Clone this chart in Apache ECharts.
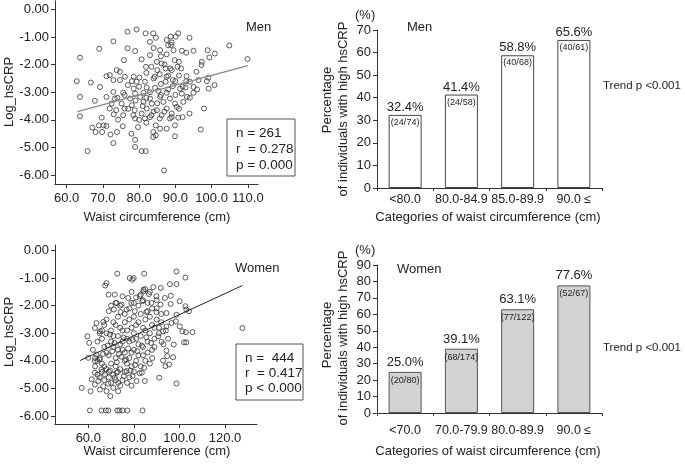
<!DOCTYPE html>
<html><head><meta charset="utf-8">
<script src="https://cdn.jsdelivr.net/npm/echarts@6/dist/echarts.min.js"></script>
<style>html,body{margin:0;padding:0;background:#fff}#c{width:685px;height:467px}</style>
</head><body><div id="c"></div>
<script>
// ---- Data ----
const menPoints = [
[79.3,-0.73],[76.8,-0.81],[81.8,-0.87],[83.9,-0.87],[84.6,-1.03],[90.8,-0.87],[93.9,-1.03],[72.9,-1.16],[83.0,-1.18],[87.6,-1.11],[88.7,-0.99],[90.1,-0.99],[104.9,-1.31],[69.0,-1.43],[76.8,-1.41],[78.9,-1.51],[85.8,-1.48],[88.8,-1.29],[89.5,-1.48],[91.8,-1.50],[93.0,-1.57],[95.0,-1.50],[98.9,-1.48],[100.9,-1.60],[109.9,-1.80],[63.7,-1.75],[83.0,-1.66],[75.8,-1.84],[87.6,-1.63],[80.7,-1.81],[84.9,-1.90],[86.2,-1.96],[97.3,-1.90],[99.4,-1.74],[89.8,-1.84],[97.2,-2.02],[81.9,-2.08],[83.4,-2.08],[87.3,-2.14],[88.6,-2.14],[90.6,-2.08],[91.6,-2.14],[95.8,-2.26],[73.8,-2.20],[74.7,-2.26],[71.0,-2.42],[71.9,-2.38],[76.1,-2.44],[78.5,-2.44],[80.1,-2.47],[84.3,-2.44],[85.7,-2.35],[87.6,-2.44],[93.1,-2.42],[99.1,-2.47],[98.7,-2.60],[100.8,-2.74],[62.8,-2.60],[66.7,-2.65],[72.9,-2.56],[74.7,-2.56],[79.3,-2.62],[81.6,-2.62],[87.3,-2.62],[89.3,-2.56],[94.0,-2.62],[96.4,-2.56],[69.2,-2.81],[76.9,-2.74],[78.5,-2.87],[82.1,-2.83],[84.4,-2.84],[89.3,-2.78],[91.3,-2.87],[92.8,-2.83],[95.0,-2.81],[99.2,-2.87],[72.9,-2.99],[75.6,-3.02],[78.9,-3.05],[81.2,-3.02],[85.3,-2.95],[87.6,-3.02],[91.8,-3.05],[95.0,-3.02],[63.7,-3.17],[67.8,-3.31],[71.0,-3.17],[73.3,-3.23],[77.5,-3.23],[80.3,-3.17],[83.0,-3.23],[85.8,-3.17],[88.5,-3.23],[93.2,-3.17],[72.4,-3.41],[75.2,-3.41],[78.0,-3.47],[81.2,-3.35],[83.5,-3.41],[86.7,-3.35],[89.9,-3.41],[92.2,-3.35],[71.9,-3.59],[73.7,-3.65],[76.0,-3.59],[78.8,-3.65],[82.1,-3.59],[84.9,-3.65],[87.6,-3.59],[90.4,-3.53],[97.9,-3.59],[75.6,-3.83],[78.4,-3.83],[80.7,-3.77],[83.4,-3.83],[86.2,-3.83],[89.0,-3.77],[93.9,-3.77],[63.7,-3.87],[69.7,-3.92],[74.2,-3.99],[78.9,-3.95],[81.6,-3.95],[85.7,-3.95],[88.5,-3.95],[90.8,-3.92],[70.2,-4.20],[68.9,-4.20],[71.0,-4.22],[67.1,-4.28],[68.0,-4.44],[69.8,-4.44],[72.1,-4.53],[73.9,-4.44],[75.5,-4.23],[77.9,-4.50],[79.7,-4.26],[84.6,-4.20],[85.8,-4.32],[87.6,-4.32],[89.9,-4.20],[97.0,-4.35],[83.9,-4.44],[84.6,-4.56],[83.9,-4.62],[89.9,-4.59],[78.9,-4.72],[72.9,-4.84],[78.9,-4.98],[65.8,-5.13],[80.7,-5.13],[81.8,-5.13],[86.9,-5.83],
[82,-2.3],[84,-2.5],[86,-2.7],[88,-2.9],[90,-3.1],[83,-3.0],[85,-3.4],[87,-3.7],[89,-3.9],[91,-3.6],[84,-3.7],[86,-3.1],[88,-2.4],[90,-2.6],[92,-2.8],[81,-3.5],[83,-3.9],[85,-2.2],[87,-2.0],[89,-2.2],[91,-2.4],[93,-2.6],[80,-2.8],[82,-3.2],[79,-3.3],[77,-3.6],[76,-3.1],[78,-2.6],[74,-3.2],[73,-3.8],[94,-3.2],[96,-2.9],[86,-1.7],[88,-1.3],[89,-1.2],[91,-1.9],[84,-1.4],[92,-3.9],[80,-4.0],[82,-4.1]
];
const menLineX = [63, 110];
const menLineY = [-3.70, -2.04];

const womenPoints = [
[72.7,-0.84],[84.5,-0.84],[98.7,-0.76],[102.6,-0.98],[78.2,-1.0],[79.3,-1.06],[79.9,-1.0],[68.0,-1.18],[67.4,-1.27],[88.5,-1.33],[91.8,-1.36],[95.8,-1.22],[98.7,-1.22],[84.2,-1.48],[84.2,-1.42],[86.6,-1.58],[96.2,-1.64],[68.9,-1.60],[71.6,-1.60],[75.0,-1.66],[77.5,-1.72],[82.6,-1.66],[89.9,-1.66],[93.6,-1.72],[100.1,-1.84],[102.6,-2.02],[103,-2.14],[104.2,-2.20],[72.4,-1.90],[74.6,-1.96],[78.9,-1.90],[83.7,-1.84],[87.7,-1.90],[91.7,-1.96],[96.1,-1.94],[71.2,-2.14],[74.2,-2.23],[76.8,-2.14],[80.4,-2.20],[85.5,-2.23],[89.9,-2.23],[94.3,-2.27],[98.7,-2.33],[100.1,-2.75],[101.3,-2.93],[102.8,-2.96],[105.7,-2.96],[102,-3.33],[103,-3.33],[127.6,-2.81],[98.4,-2.57],[96.5,-2.63],[94.3,-2.75],[92.8,-2.93],[90.7,-3.11],[92.1,-3.31],[94.3,-3.63],[97.5,-3.41],[94.6,-3.83],[92.8,-3.99],[93.8,-4.19],[95.5,-4.13],[97.2,-3.87],[98.7,-4.82],[91.1,-4.61],[84.8,-4.73],[59.6,-3.11],[60.4,-3.35],[62.9,-2.81],[63.6,-2.63],[66.6,-2.59],[65.1,-2.93],[63.6,-3.77],[60,-3.89],[62.9,-4.01],[65.1,-3.95],[57.1,-4.98],[61.5,-4.67],[62.9,-4.86],[64.4,-4.73],[66.6,-4.92],[68.8,-4.83],[71.0,-4.98],[73.1,-5.10],[69.7,-5.28],[61.0,-5.10],[65.1,-5.04],[68.0,-5.10],[73.1,-4.80],[71.6,-4.61],[75.6,-4.55],[81.2,-4.73],[79.4,-4.55],[83.5,-4.43],[62.9,-4.43],[65.8,-4.31],[67.3,-4.49],[69.5,-4.35],[72.4,-4.43],[76.8,-4.37],[60.7,-5.80],[65.8,-5.80],[67.7,-5.80],[68.8,-5.80],[72.7,-5.80],[73.6,-5.80],[75.0,-5.80],[77.1,-5.80],[83.8,-5.80],
[66,-3.2],[67,-3.5],[68,-3.0],[69,-3.8],[70,-3.3],[71,-2.6],[72,-3.9],[73,-3.1],[74,-2.8],[75,-3.6],[76,-4.0],[77,-3.2],[78,-2.5],[79,-3.7],[80,-3.0],[81,-2.7],[82,-3.4],[83,-2.3],[84,-3.8],[85,-2.9],[86,-3.3],[87,-2.4],[88,-3.6],[89,-2.8],[90,-2.5],[91,-3.0],[92,-2.6],[93,-3.4],[94,-2.9],[95,-3.2],
[65,-3.9],[66,-4.1],[67,-4.2],[68,-3.7],[69,-4.4],[70,-4.1],[71,-3.5],[72,-4.2],[73,-3.6],[74,-4.3],[75,-3.3],[76,-3.7],[77,-4.1],[78,-3.9],[79,-4.2],[80,-3.6],[81,-4.0],[82,-3.8],[83,-4.2],[84,-3.5],[85,-4.0],[86,-3.7],[87,-4.1],[88,-3.9],[89,-3.5],
[70,-2.9],[71,-3.1],[72,-2.7],[73,-2.4],[74,-3.4],[75,-2.9],[76,-2.6],[77,-2.9],[78,-3.3],[79,-2.8],[80,-2.4],[81,-3.2],[82,-2.6],[83,-3.1],[84,-2.8],[85,-2.5],[86,-2.2],[87,-3.0],[88,-2.7],[89,-3.2],[90,-2.1],[91,-2.8],[92,-2.3],
[64,-4.5],[65,-4.6],[66,-4.4],[67,-4.7],[68,-4.3],[69,-4.6],[70,-4.8],[71,-4.5],[72,-4.7],[73,-4.4],[74,-4.9],[75,-4.7],[76,-4.4],[77,-4.8],[78,-4.6],[79,-4.9],[80,-4.4],
[62,-3.6],[63,-4.2],[64,-3.3],[65,-3.0],[63,-3.9],[64,-4.0],[66,-2.9],[67,-2.7],[68,-2.5],[69,-2.2],[70,-2.0],[72,-1.9],[74,-2.0],[76,-2.3],[78,-2.1],[80,-1.9],[82,-2.0],[84,-1.8],[86,-1.9],[88,-2.1],[90,-1.8],[79,-1.5],[81,-1.7],[83,-1.6],[85,-1.4],[87,-1.5],
[71.5,-3.35],[73.5,-3.75],[75.5,-3.15],[77.5,-3.55],[79.5,-3.25],[81.5,-3.65],[83.5,-3.45],[85.5,-3.15],[87.5,-3.35],[76.5,-3.95],[78.5,-4.35],[80.5,-4.15],[82.5,-4.45],[84.5,-4.25],[72.5,-4.05],[74.5,-3.85],[70.5,-3.65],[68.5,-3.45],[66.5,-3.75],[69.5,-3.05]
];
const womenLineX = [56.4, 127.6];
const womenLineY = [-3.99, -1.27];

const menCats = ['<80.0', '80.0-84.9', '85.0-89.9', '90.0 ≤'];
const menPct = [32.4, 41.4, 58.8, 65.6];
const menCounts = ['(24/74)', '(24/58)', '(40/68)', '(40/61)'];
const womenCats = ['<70.0', '70.0-79.9', '80.0-89.9', '90.0 ≤'];
const womenPct = [25.0, 39.1, 63.1, 77.6];
const womenCounts = ['(20/80)', '(68/174)', '(77/122)', '(52/67)'];

const logTicks = [0, -1, -2, -3, -4, -5, -6];
const menXTicks = [60, 70, 80, 90, 100, 110];
const womenXTicks = [60, 80, 100, 120];

// ---- Chart ----
const FONT = '"Liberation Sans", Arial, sans-serif';
const TXT = '#222';
const AX = '#333';
const chart = echarts.init(document.getElementById('c'), null, {renderer: 'canvas'});

function scatterX(gi, min, max, ticks, margin) {
  return {type: 'value', gridIndex: gi, min, max, splitLine: {show: false},
    axisLine: {show: true, onZero: false, lineStyle: {color: AX}},
    axisTick: {show: true, length: 4, customValues: ticks, lineStyle: {color: AX}},
    axisLabel: {customValues: ticks, formatter: v => v.toFixed(1), fontFamily: FONT, fontSize: 13, color: TXT, margin}};
}
function scatterY(gi, min, max) {
  return {type: 'value', gridIndex: gi, min, max, splitLine: {show: false},
    axisLine: {show: true, onZero: false, lineStyle: {color: AX}},
    axisTick: {show: true, length: 4, customValues: logTicks, lineStyle: {color: AX}},
    axisLabel: {customValues: logTicks, formatter: v => v.toFixed(2), fontFamily: FONT, fontSize: 13, color: TXT, margin: 6}};
}
function barX(gi, cats, margin) {
  return {type: 'category', gridIndex: gi, data: cats, boundaryGap: true,
    axisLine: {show: true, lineStyle: {color: AX}},
    axisTick: {show: true, length: 3, lineStyle: {color: AX}},
    axisLabel: {interval: 0, fontFamily: FONT, fontSize: 12.5, color: TXT, margin}};
}
function barY(gi, max) {
  return {type: 'value', gridIndex: gi, min: 0, max, interval: 10, splitLine: {show: false},
    axisLine: {show: true, lineStyle: {color: AX}},
    axisTick: {show: true, length: 4, lineStyle: {color: AX}},
    axisLabel: {fontFamily: FONT, fontSize: 13, color: TXT, margin: 6}};
}
const ptStyle = {color: 'rgba(255,255,255,0)', borderColor: '#333', borderWidth: 1};

function txt(x, y, text, opts) {
  opts = opts || {};
  return {type: 'text', x, y, rotation: opts.rot || 0, z: 100,
    style: {text, fill: TXT, font: (opts.size || 13) + 'px ' + FONT,
      textAlign: opts.align || 'left', textVerticalAlign: 'middle', verticalAlign: 'middle'}};
}

const option = {
  animation: false,
  grid: [
    {left: 55, top: 1, width: 203, height: 183},
    {left: 55, top: 245, width: 202, height: 179},
    {left: 377, top: 30, width: 225, height: 158},
    {left: 377, top: 265, width: 225, height: 148}
  ],
  xAxis: [
    scatterX(0, 56.8, 112.8, menXTicks, 8),
    scatterX(1, 45.4, 134, womenXTicks, 8),
    barX(2, menCats, 5),
    barX(3, womenCats, 11)
  ],
  yAxis: [
    scatterY(0, -6.32, 0.3),
    scatterY(1, -6.29, 0.2),
    barY(2, 70),
    barY(3, 90)
  ],
  series: [
    {type: 'scatter', xAxisIndex: 0, yAxisIndex: 0, data: menPoints, symbol: 'circle', symbolSize: 5, itemStyle: ptStyle},
    {type: 'line', xAxisIndex: 0, yAxisIndex: 0, data: menLineX.map((x, i) => [x, menLineY[i]]), symbol: 'none', lineStyle: {color: '#888', width: 1.3}},
    {type: 'scatter', xAxisIndex: 1, yAxisIndex: 1, data: womenPoints, symbol: 'circle', symbolSize: 5, itemStyle: ptStyle},
    {type: 'line', xAxisIndex: 1, yAxisIndex: 1, data: womenLineX.map((x, i) => [x, womenLineY[i]]), symbol: 'none', lineStyle: {color: '#222', width: 1}},
    {type: 'bar', xAxisIndex: 2, yAxisIndex: 2, data: menPct, barWidth: 33,
      itemStyle: {color: '#fff', borderColor: '#444', borderWidth: 1},
      label: {show: true, position: 'top', distance: 1, formatter: p => menPct[p.dataIndex].toFixed(1) + '%', fontFamily: FONT, fontSize: 13, color: TXT}},
    {type: 'bar', xAxisIndex: 2, yAxisIndex: 2, data: menPct, barWidth: 33, barGap: '-100%',
      itemStyle: {color: 'rgba(0,0,0,0)', borderWidth: 0},
      label: {show: true, position: 'insideTop', distance: 3, formatter: p => menCounts[p.dataIndex], fontFamily: FONT, fontSize: 9, color: TXT}},
    {type: 'bar', xAxisIndex: 3, yAxisIndex: 3, data: womenPct, barWidth: 33,
      itemStyle: {color: '#d2d2d2', borderColor: '#555', borderWidth: 1},
      label: {show: true, position: 'top', distance: 3, formatter: p => womenPct[p.dataIndex].toFixed(1) + '%', fontFamily: FONT, fontSize: 13, color: TXT}},
    {type: 'bar', xAxisIndex: 3, yAxisIndex: 3, data: womenPct, barWidth: 33, barGap: '-100%',
      itemStyle: {color: 'rgba(0,0,0,0)', borderWidth: 0},
      label: {show: true, position: 'insideTop', distance: 4, formatter: p => womenCounts[p.dataIndex], fontFamily: FONT, fontSize: 9, color: TXT}}
  ],
  graphic: [
    // men scatter
    {type: 'rect', shape: {x: 227, y: 119, width: 68, height: 57}, style: {fill: '#fff', stroke: '#555', lineWidth: 1}, z: 99},
    txt(236, 133, 'n = 261', {size: 13.5}),
    txt(236, 149, 'r  = 0.278', {size: 13.5}),
    txt(236, 165, 'p = 0.000', {size: 13.5}),
    txt(246, 27, 'Men'),
    txt(9, 92, 'Log_hsCRP', {rot: Math.PI / 2, align: 'center'}),
    txt(157, 217, 'Waist circumference (cm)', {align: 'center'}),
    // women scatter
    {type: 'rect', shape: {x: 236, y: 344, width: 67, height: 56}, style: {fill: '#fff', stroke: '#555', lineWidth: 1}, z: 99},
    txt(245, 358, 'n =  444', {size: 13.5}),
    txt(245, 373, 'r  = 0.417', {size: 13.5}),
    txt(245, 388, 'p < 0.000', {size: 13.5}),
    txt(235, 268, 'Women'),
    txt(9, 332, 'Log_hsCRP', {rot: Math.PI / 2, align: 'center'}),
    txt(157, 451, 'Waist circumference (cm)', {align: 'center'}),
    // men bar
    txt(355, 15, '(%)'),
    txt(407, 27, 'Men'),
    txt(603, 86, 'Trend p <0.001', {size: 11.5}),
    txt(327, 100, 'Percentage', {rot: Math.PI / 2, align: 'center'}),
    txt(343, 109, 'of individuals with high hsCRP', {rot: Math.PI / 2, align: 'center'}),
    txt(488, 217, 'Categories of waist circumference (cm)', {align: 'center'}),
    // women bar
    txt(355, 250, '(%)'),
    txt(397, 269, 'Women'),
    txt(603, 348, 'Trend p <0.001', {size: 11.5}),
    txt(327, 335, 'Percentage', {rot: Math.PI / 2, align: 'center'}),
    txt(343, 338, 'of individuals with high hsCRP', {rot: Math.PI / 2, align: 'center'}),
    txt(488, 451, 'Categories of waist circumference (cm)', {align: 'center'})
  ]
};
chart.setOption(option);
</script>
</body></html>
